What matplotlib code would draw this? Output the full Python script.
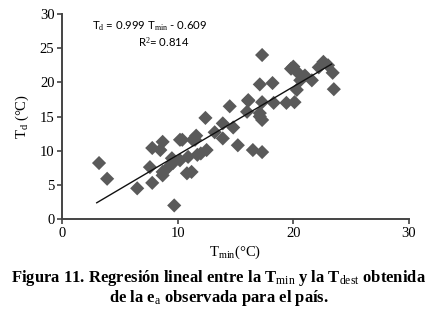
"""
Figura 11 — Regresión lineal entre Tmin y Tdest
"""

import matplotlib
matplotlib.use("Agg")
import matplotlib.pyplot as plt
import numpy as np

# ─── data ───────────────────────────────────────────────────────────────

tmin = [3.2, 3.9, 6.5, 7.8, 7.6, 7.8, 8.5, 8.7, 8.7, 9.2,
        9.6, 9.5, 10.2, 9.7, 10.8, 11.2, 10.9, 11.7, 10.2, 10.4,
        11.3, 11.5, 12.4, 12.5, 13.2, 13.9, 13.9, 14.5, 15.2, 16.0,
        16.1, 16.1, 16.5, 17.3, 17.1, 17.1, 17.3, 17.3, 17.1, 18.2,
        18.3, 19.4, 20.1, 17.3, 20.0, 20.4, 19.8, 20.6, 21.6, 20.3,
        22.6, 22.2, 23.0, 23.4, 23.5, 21.0, 8.7, 11.6, 12.0, 14.8]
tdest = [8.2, 5.9, 4.5, 5.3, 7.6, 10.4, 10.1, 11.3, 6.9, 7.6,
         8.2, 8.9, 8.6, 2.0, 6.7, 6.9, 9.1, 9.4, 11.6, 11.6,
         11.6, 11.6, 14.8, 10.1, 12.7, 11.8, 14.0, 16.5, 10.8, 15.7,
         17.3, 17.4, 10.1, 9.8, 15.0, 15.5, 14.5, 17.1, 19.7, 19.9,
         17.0, 17.0, 17.1, 24.0, 22.3, 21.4, 22.0, 20.3, 20.3, 18.9,
         23.0, 22.2, 22.5, 21.4, 19.0, 21.0, 6.4, 12.2, 9.6, 13.4]

slope, intercept = 0.999, -0.609
fit_range = [3.0, 23.3]

# ─── fonts ──────────────────────────────────────────────────────────────

plt.rcParams["font.family"] = ["Liberation Serif", "DejaVu Serif"]
plt.rcParams["mathtext.fontset"] = "custom"
plt.rcParams["mathtext.rm"] = "Liberation Serif"
plt.rcParams["mathtext.it"] = "Liberation Serif:italic"
plt.rcParams["mathtext.bf"] = "Liberation Serif:bold"

# ─── plot ───────────────────────────────────────────────────────────────

fig = plt.figure(figsize=(4.38, 3.18), dpi=100)
ax = fig.add_axes([0.1416, 0.311, 0.7922, 0.645])

ax.scatter(tmin, tdest, marker="D", s=52, color="#5a5a5a",
           edgecolors="none", zorder=2, clip_on=False)

xs = np.array(fit_range)
ax.plot(xs, slope * xs + intercept, color="#111111", lw=1.0, zorder=3)

ax.set_xlim(0, 30)
ax.set_ylim(0, 30)
ax.set_xticks([0, 10, 20, 30])
ax.set_yticks([0, 5, 10, 15, 20, 25, 30])

for side in ("top", "right"):
    ax.spines[side].set_visible(False)
for side in ("left", "bottom"):
    ax.spines[side].set_color("#444444")
    ax.spines[side].set_linewidth(1.4)

ax.tick_params(direction="out", length=3.5, width=1.2, color="#444444",
               labelsize=10.5, pad=2)

ax.set_xlabel(r"T$_{\rm min}$(°C)", fontsize=10.5, labelpad=3)
ax.set_ylabel(r"T$_{\rm d}$ (°C)", fontsize=10.5, labelpad=6)

ax.text(0.086, 0.94,
        r"T$_{\rm d}$" + " = 0.999 " + r"T$_{\rm min}$" + " - 0.609",
        transform=ax.transAxes, fontsize=8.2, ha="left", va="center",
        family=["Lato", "DejaVu Sans"])
ax.text(0.22, 0.86, r"R$^{2}$" + "= 0.814",
        transform=ax.transAxes, fontsize=8.2, ha="left", va="center",
        family=["Lato", "DejaVu Sans"])

fig.text(0.5, 0.125,
         r"Figura 11. Regresión lineal entre la T$_{\rm min}$ y la T$_{\rm dest}$ obtenida",
         ha="center", va="center", fontsize=12, fontweight="bold")
fig.text(0.5, 0.062, r"de la e$_{\rm a}$ observada para el país.",
         ha="center", va="center", fontsize=12, fontweight="bold")

fig.savefig("out.png", dpi=100)
